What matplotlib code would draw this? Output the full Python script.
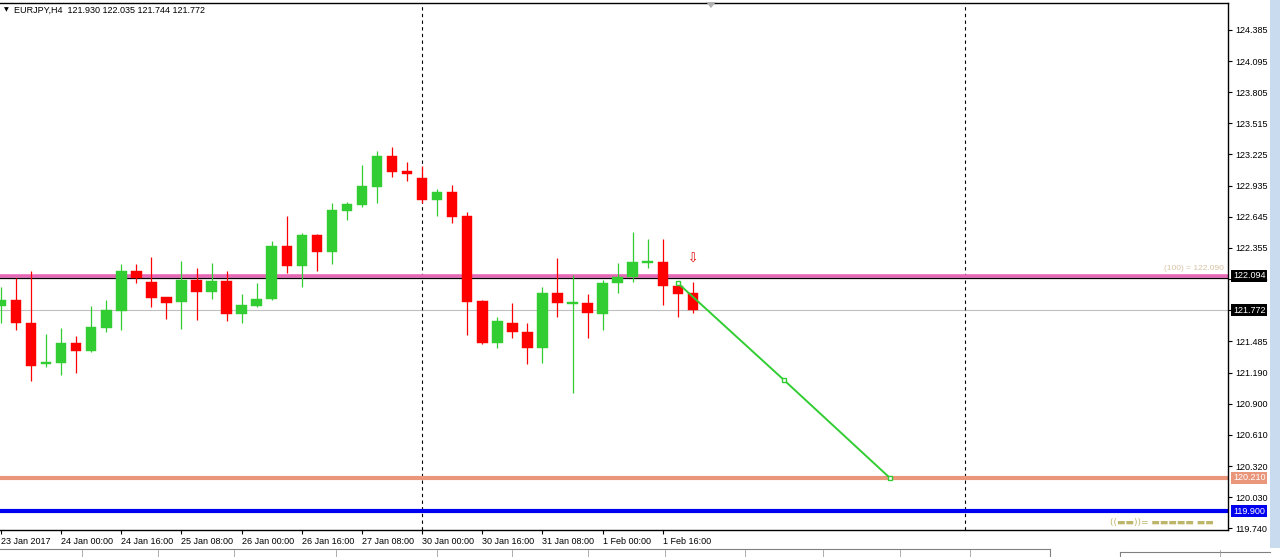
import matplotlib
matplotlib.use("Agg")
import matplotlib.pyplot as plt
from matplotlib.patches import Rectangle, Polygon
from matplotlib.lines import Line2D

# ---------------- data ----------------
symbol_title = "EURJPY,H4  121.930 122.035 121.744 121.772"
opens  = [121.812, 121.868, 121.653, 121.271, 121.281, 121.467, 121.392, 121.607,
          121.765, 122.138, 122.035, 121.896, 121.849, 122.054, 121.942, 122.045,
          121.737, 121.812, 121.877, 122.371, 122.185, 122.473, 122.315, 122.697,
          122.753, 122.921, 123.210, 123.070, 123.005, 122.800, 122.874, 122.651,
          121.858, 121.467, 121.653, 121.569, 121.420, 121.933, 121.835, 121.840,
          121.737, 122.026, 122.082, 122.217, 122.222, 121.998, 121.930]
highs  = [121.989, 122.073, 122.138, 121.551, 121.607, 121.532, 121.812, 121.868,
          122.203, 122.203, 122.268, 121.900, 122.231, 122.166, 122.212, 122.138,
          121.924, 122.026, 122.418, 122.651, 122.492, 122.480, 122.772, 122.781,
          123.126, 123.256, 123.294, 123.154, 123.116, 122.902, 122.939, 122.688,
          121.868, 121.709, 121.840, 121.653, 121.989, 122.259, 122.101, 121.924,
          122.054, 122.212, 122.501, 122.436, 122.436, 122.035, 122.035]
lows   = [121.653, 121.588, 121.113, 121.243, 121.169, 121.187, 121.383, 121.569,
          121.588, 122.026, 121.802, 121.691, 121.597, 121.681, 121.877, 121.672,
          121.653, 121.802, 121.868, 122.119, 121.989, 122.138, 122.203, 122.613,
          122.734, 122.772, 123.014, 122.977, 122.772, 122.651, 122.585, 121.541,
          121.458, 121.420, 121.514, 121.271, 121.281, 121.709, 121.001, 121.514,
          121.588, 121.933, 122.035, 122.166, 121.821, 121.709, 121.744]
closes = [121.868, 121.653, 121.253, 121.290, 121.467, 121.392, 121.616, 121.774,
          122.138, 122.073, 121.886, 121.840, 122.054, 121.942, 122.045, 121.737,
          121.821, 121.877, 122.371, 122.185, 122.473, 122.315, 122.706, 122.762,
          122.930, 123.210, 123.061, 123.042, 122.800, 122.874, 122.641, 121.849,
          121.467, 121.672, 121.569, 121.420, 121.933, 121.840, 121.845, 121.747,
          122.026, 122.082, 122.222, 122.227, 121.998, 121.924, 121.772]

date_labels = ["23 Jan 2017", "24 Jan 00:00", "24 Jan 16:00", "25 Jan 08:00",
               "26 Jan 00:00", "26 Jan 16:00", "27 Jan 08:00", "30 Jan 00:00",
               "30 Jan 16:00", "31 Jan 08:00", "1 Feb 00:00", "1 Feb 16:00"]
date_label_bars = [0, 4, 8, 12, 16, 20, 24, 28, 32, 36, 40, 44]

price_ticks = [124.385, 124.095, 123.805, 123.515, 123.225, 122.935, 122.645,
               122.355, 122.065, 121.775, 121.485, 121.190, 120.900, 120.610,
               120.320, 120.030, 119.740]

level_pink = 122.094
level_black = 122.073
bid_price = 121.772
level_salmon = 120.210
level_blue = 119.900
fib_text = "(100) = 122.090"

separator_bars = [28.0, 64.1]
trend_bars = [45.0, 52.06, 59.1]
trend_prices = [122.026, 121.122, 120.210]
arrow_bar = 46.0
arrow_price = 122.25

# ---------------- figure ----------------
W, H = 1280, 557
fig = plt.figure(figsize=(W / 100, H / 100), dpi=100, facecolor="white")
plt.rcParams['font.family'] = ['Liberation Sans', 'DejaVu Sans']

left_px, right_px, top_px, bot_px = 0, 1228, 3, 530
ax = fig.add_axes([left_px / W, 1 - bot_px / H, (right_px - left_px) / W, (bot_px - top_px) / H])
ax.set_facecolor("white")

px_per_bar = 15.04
ax.set_xlim(-1 / px_per_bar, (right_px - 1) / px_per_bar)
ax.set_ylim(124.636 - (530 - 3) / 107.3, 124.636)

GREEN = "#32cd32"
RED = "#ff0000"
body_w = 10.5 / px_per_bar

# candles
for i, (o, h, l, c) in enumerate(zip(opens, highs, lows, closes)):
    col = GREEN if c >= o else RED
    ax.vlines(i, l, h, color=col, linewidth=0.9, zorder=3)
    bot = min(o, c)
    ht = max(abs(c - o), 0.008)
    ax.add_patch(Rectangle((i - body_w / 2, bot), body_w, ht, facecolor=col,
                           edgecolor=col, linewidth=0.3, zorder=4))

# horizontal levels
ax.axhline(level_pink, color="#e868b8", linewidth=2.6, zorder=2)
ax.axhline(level_black, color="black", linewidth=0.9, zorder=2)
ax.axhline(bid_price, color="#c0c0c0", linewidth=0.8, zorder=1)
ax.axhline(level_salmon, color="#e9967a", linewidth=3.0, zorder=2)
ax.axhline(level_blue, color="#0000f0", linewidth=3.0, zorder=2)

# week separators
for xb in separator_bars:
    ax.axvline(xb, color="black", linewidth=0.8, linestyle=(0, (3, 3)), zorder=1)

# trend projection line
ax.plot(trend_bars, trend_prices, color=GREEN, linewidth=1.4, zorder=5,
        marker="s", markersize=3.5, markerfacecolor="white", markeredgecolor=GREEN,
        markeredgewidth=1.0)

# sell arrow
ax.text(arrow_bar, arrow_price, "\u21e9", color="#e00000", ha="center", va="center",
        fontsize=9, family=["DejaVu Sans"], zorder=6)

# fib label
ax.text(0.9965, level_pink + 0.035, fib_text, transform=ax.get_yaxis_transform(),
        ha="right", va="bottom", fontsize=6, color="#d9c3a5")

# bottom-right indicator label
ax.text(0.9885, 119.755, "((\u25ac\u25ac))= \u25ac\u25ac\u25ac\u25ac\u25ac \u25ac\u25ac",
        transform=ax.get_yaxis_transform(), ha="right", va="bottom", fontsize=6.5,
        color="#bdb56a", family=["DejaVu Sans"], zorder=6)

# axes styling
for s in ["top", "right", "bottom"]:
    ax.spines[s].set_color("black")
    ax.spines[s].set_linewidth(1.0)
ax.spines["left"].set_visible(False)

ax.yaxis.tick_right()
ax.set_yticks(price_ticks)
ax.set_yticklabels([f"{v:.3f}" for v in price_ticks])
ax.tick_params(axis="y", right=True, left=False, length=3, width=0.8, pad=2,
               labelsize=6.5, colors="black")

ax.set_xticks(date_label_bars)
ax.set_xticklabels(date_labels, ha="left")
ax.tick_params(axis="x", length=3, width=0.8, pad=2, labelsize=6.5, colors="black",
               direction="out")
for lbl in ax.get_xticklabels():
    lbl.set_horizontalalignment("left")

# price boxes on the axis
def price_box(val, text, bg, fg):
    ax.annotate(text, xy=(1.0, val), xycoords=("axes fraction", "data"),
                xytext=(5, 0), textcoords="offset pixels", ha="left", va="center",
                fontsize=6.5, color=fg, zorder=20, annotation_clip=False,
                bbox=dict(boxstyle="square,pad=0.18", fc=bg, ec="none"))

price_box(level_pink, f"{level_pink:.3f}", "black", "white")
price_box(bid_price, f"{bid_price:.3f}", "black", "white")
price_box(level_salmon, f"{level_salmon:.3f}", "#e9967a", "white")
price_box(level_blue, f"{level_blue:.3f}", "#0000f0", "white")

# title
fig.text(4 / W, 1 - 10 / H, "\u25bc", fontsize=4.5, color="black", va="center",
         ha="left", family=["DejaVu Sans"])
fig.text(14 / W, 1 - 10 / H, symbol_title, fontsize=6.5, color="black",
         va="center", ha="left")

# chart-shift marker at top
fig.patches.append(Polygon([[706 / W, 1 - 2 / H], [716 / W, 1 - 2 / H], [711 / W, 1 - 8 / H]],
                           closed=True, transform=fig.transFigure, facecolor="#b0b0b0",
                           edgecolor="none"))

# right scroll bar
fig.patches.append(Rectangle((1270 / W, 1 - 548 / H), 10 / W, 548 / H,
                             transform=fig.transFigure, facecolor="#c9dbee",
                             edgecolor="none"))
# bottom tab strip
fig.lines.append(Line2D([0, 1050 / W], [1 - 549 / H, 1 - 549 / H], transform=fig.transFigure,
                        color="#808080", linewidth=0.8))
fig.lines.append(Line2D([1120 / W, 1270 / W], [1 - 552 / H, 1 - 552 / H], transform=fig.transFigure,
                        color="#808080", linewidth=0.8))
fig.lines.append(Line2D([1050 / W, 1050 / W], [1 - 549 / H, 0], transform=fig.transFigure,
                        color="#808080", linewidth=0.8))
fig.lines.append(Line2D([1120 / W, 1120 / W], [1 - 552 / H, 0], transform=fig.transFigure,
                        color="#808080", linewidth=0.8))
for xp in [82, 158, 234, 336, 437, 512, 588, 665, 745, 823, 900, 970, 1220]:
    fig.lines.append(Line2D([xp / W, xp / W], [1 - 550 / H, 0], transform=fig.transFigure,
                            color="#a0a0a0", linewidth=0.6))

fig.savefig("out.png", dpi=100, facecolor="white")
